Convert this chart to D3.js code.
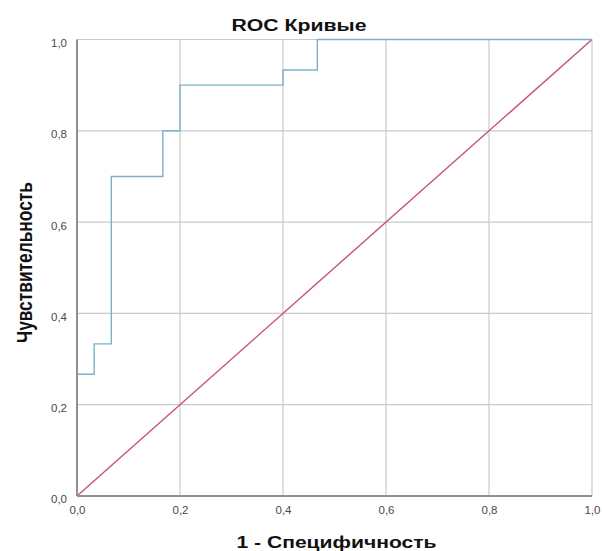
<!DOCTYPE html>
<html>
<head>
<meta charset="utf-8">
<script src="https://cdn.jsdelivr.net/npm/d3@7"></script>
<style>
  html, body { margin: 0; padding: 0; background: #fff; }
  svg { display: block; font-family: "Liberation Sans", Arial, sans-serif; }
</style>
</head>
<body>
<svg id="chart" width="602" height="551"></svg>
<script>
// ROC curve: false positive rate (1 - specificity) vs true positive rate (sensitivity)
const fpr = [0, 0, 1/30, 1/30, 2/30, 2/30, 5/30, 5/30, 6/30, 6/30, 12/30, 12/30, 14/30, 14/30, 1];
const tpr = [0, 8/30, 8/30, 10/30, 10/30, 21/30, 21/30, 24/30, 24/30, 27/30, 27/30, 28/30, 28/30, 1, 1];
// reference line (chance)
const refX = [0, 1];
const refY = [0, 1];
const tickValues = [0, 0.2, 0.4, 0.6, 0.8, 1.0];
const tickLabels = ["0,0", "0,2", "0,4", "0,6", "0,8", "1,0"];

const svg = d3.select("#chart");
const x = d3.scaleLinear().domain([0, 1]).range([77, 592]);
const y = d3.scaleLinear().domain([0, 1]).range([496, 39.5]);

// grid
const grid = svg.append("g").attr("stroke", "#cacaca").attr("stroke-width", 1.2);
grid.selectAll(".gx").data(tickValues).join("line")
  .attr("x1", d => x(d)).attr("x2", d => x(d))
  .attr("y1", y(0)).attr("y2", y(1));
grid.selectAll(".gy").data(tickValues).join("line")
  .attr("x1", x(0)).attr("x2", x(1))
  .attr("y1", d => y(d)).attr("y2", d => y(d));

// axes
const xAxis = d3.axisBottom(x).tickValues(tickValues)
  .tickFormat((d, i) => tickLabels[i]).tickSize(0).tickPadding(10);
const yAxis = d3.axisLeft(y).tickValues(tickValues)
  .tickFormat((d, i) => tickLabels[i]).tickSize(0).tickPadding(10);

const gx = svg.append("g").attr("transform", `translate(0,${y(0)})`).call(xAxis);
const gy = svg.append("g").attr("transform", `translate(${x(0)},0)`).call(yAxis);
[gx, gy].forEach(g => {
  g.select(".domain").remove();
  g.selectAll("text").attr("fill", "#4a4a4a").style("font-size", "11.5px")
    .style("font-family", "'Liberation Sans', Arial, sans-serif");
});
gy.selectAll("text").attr("dy", "0.6em");

// diagonal reference line
const line = d3.line().x(d => x(d[0])).y(d => y(d[1]));
svg.append("path")
  .datum(refX.map((v, i) => [v, refY[i]]))
  .attr("d", line)
  .attr("fill", "none")
  .attr("stroke", "#c9506f")
  .attr("stroke-width", 1.4);

// ROC step curve
svg.append("path")
  .datum(fpr.map((v, i) => [v, tpr[i]]))
  .attr("d", line)
  .attr("fill", "none")
  .attr("stroke", "#7db0cc")
  .attr("stroke-width", 1.4);

// frame lines: left and bottom axis
svg.append("line").attr("x1", x(0)).attr("x2", x(0)).attr("y1", y(1)).attr("y2", y(0))
  .attr("stroke", "#909090").attr("stroke-width", 2);
svg.append("line").attr("x1", x(0)).attr("x2", x(1)).attr("y1", y(0)).attr("y2", y(0))
  .attr("stroke", "#909090").attr("stroke-width", 2);

// titles (wide bold face)
svg.append("text").attr("x", 299).attr("y", 30.5)
  .attr("text-anchor", "middle").attr("font-weight", "bold")
  .attr("textLength", 135).attr("lengthAdjust", "spacingAndGlyphs")
  .style("font-size", "16px").attr("fill", "#111")
  .text("ROC Кривые");

svg.append("text").attr("x", 336.5).attr("y", 548)
  .attr("text-anchor", "middle").attr("font-weight", "bold")
  .attr("textLength", 200).attr("lengthAdjust", "spacingAndGlyphs")
  .style("font-size", "16px").attr("fill", "#111")
  .text("1 - Специфичность");

svg.append("text")
  .attr("transform", "translate(32,262.5) scale(1.3,1) rotate(-90)")
  .attr("text-anchor", "middle").attr("font-weight", "bold")
  .attr("textLength", 161).attr("lengthAdjust", "spacingAndGlyphs")
  .style("font-size", "17px").attr("fill", "#111")
  .text("Чувствительность");
</script>
</body>
</html>
